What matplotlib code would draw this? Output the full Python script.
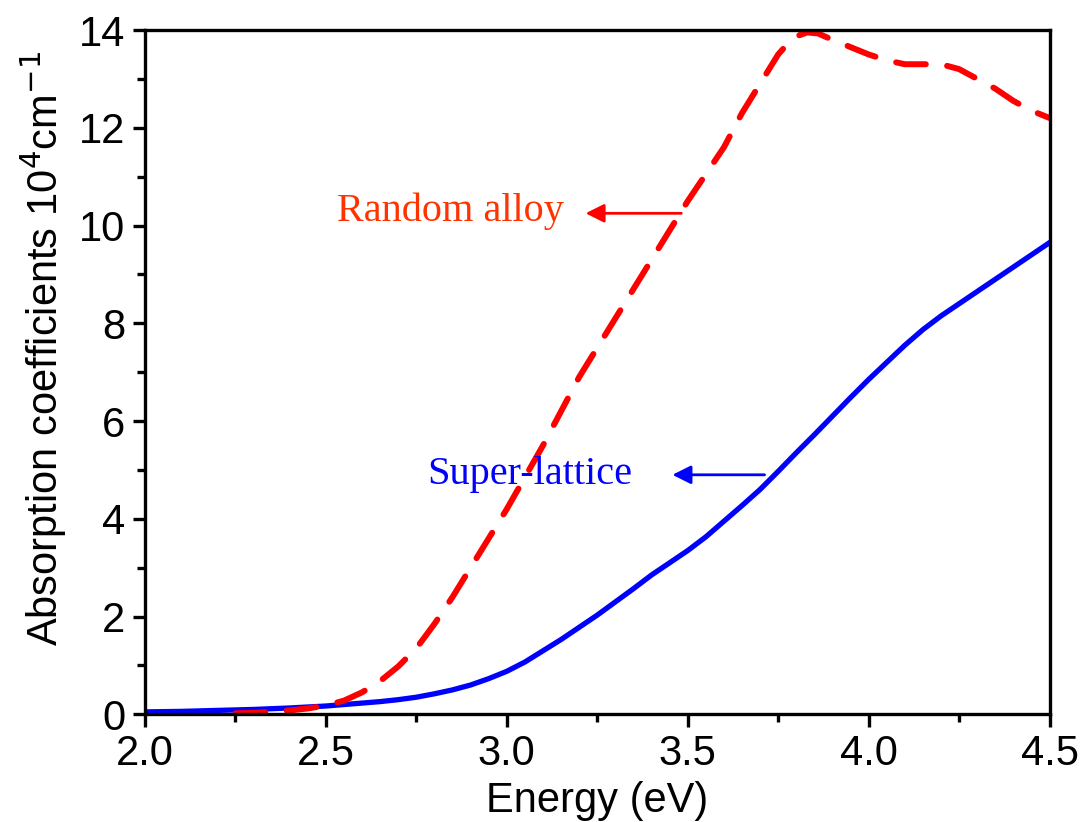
import numpy as np
import matplotlib
matplotlib.use("Agg")
import matplotlib.pyplot as plt

# energy (eV) and absorption (10^4 cm^-1)
energy_sl = [2.0, 2.1, 2.2, 2.3, 2.4, 2.5, 2.55, 2.6, 2.65, 2.7, 2.75, 2.8,
             2.85, 2.9, 2.95, 3.0, 3.05, 3.1, 3.15, 3.2, 3.25, 3.3, 3.35, 3.4,
             3.45, 3.5, 3.55, 3.6, 3.65, 3.7, 3.75, 3.8, 3.85, 3.9, 3.95, 4.0,
             4.05, 4.1, 4.15, 4.2, 4.25, 4.3, 4.35, 4.4, 4.45, 4.5]
super_lattice = [0.05, 0.06, 0.08, 0.1, 0.13, 0.17, 0.2, 0.23, 0.26, 0.3,
                 0.35, 0.42, 0.5, 0.6, 0.73, 0.88, 1.07, 1.3, 1.53, 1.78,
                 2.03, 2.3, 2.57, 2.85, 3.1, 3.35, 3.63, 3.95, 4.27, 4.6,
                 4.97, 5.35, 5.72, 6.1, 6.48, 6.85, 7.2, 7.55, 7.87, 8.15,
                 8.4, 8.65, 8.9, 9.15, 9.4, 9.65]

energy_ra = [2.25, 2.3, 2.35, 2.4, 2.45, 2.5, 2.55, 2.6, 2.65, 2.7, 2.75,
             2.8, 2.85, 2.9, 2.95, 3.0, 3.05, 3.1, 3.15, 3.2, 3.25, 3.3, 3.35,
             3.4, 3.45, 3.5, 3.55, 3.6, 3.65, 3.7, 3.75, 3.78, 3.8, 3.83,
             3.86, 3.9, 3.95, 4.0, 4.05, 4.1, 4.15, 4.2, 4.25, 4.3, 4.35, 4.4,
             4.45, 4.5]
random_alloy = [0.02, 0.03, 0.05, 0.08, 0.12, 0.18, 0.28, 0.45, 0.68, 0.98,
                1.35, 1.85, 2.4, 3.0, 3.6, 4.2, 4.85, 5.5, 6.2, 6.9, 7.5, 8.1,
                8.7, 9.3, 9.9, 10.5, 11.05, 11.6, 12.3, 12.9, 13.5, 13.75,
                13.87, 13.95, 13.93, 13.8, 13.65, 13.5, 13.38, 13.3, 13.3,
                13.3, 13.2, 13.0, 12.8, 12.55, 12.35, 12.2]

plt.rcParams['font.family'] = ['Liberation Sans', 'DejaVu Sans']

fig = plt.figure(figsize=(10.82, 8.22), dpi=100)
ax = fig.add_axes([0.134, 0.131, 0.836, 0.8325])

ax.plot(energy_sl, super_lattice, color='#0000ff', lw=3.8,
        solid_joinstyle='round')
ax.plot(energy_ra, random_alloy, color='#ff0000', lw=4.3, ls=(0, (5, 3.6)),
        dash_capstyle='round', dash_joinstyle='round')

ax.set_xlim(2.0, 4.5)
ax.set_ylim(0, 14)
ax.set_xticks(np.arange(2.0, 4.51, 0.5))
ax.set_xticks(np.arange(2.25, 4.5, 0.5), minor=True)
ax.set_yticks(np.arange(0, 15, 2))
ax.set_yticks(np.arange(1, 14, 2), minor=True)
ax.xaxis.set_major_formatter(matplotlib.ticker.FormatStrFormatter('%.1f'))

for s in ax.spines.values():
    s.set_linewidth(2.4)
ax.tick_params(which='major', direction='out', length=9, width=2.4,
               labelsize=30, pad=5)
ax.tick_params(which='minor', direction='out', length=5.5, width=2.4)

ax.set_xlabel('Energy (eV)', fontsize=30, labelpad=5)
ax.set_ylabel('Absorption coefficients 10$^4$cm$^{-1}$', fontsize=30)
ax.yaxis.set_label_coords(-0.084, 0.535)

serif = ['Liberation Serif', 'DejaVu Serif']
ax.annotate('', xy=(3.21, 10.25), xytext=(3.49, 10.25),
            arrowprops=dict(arrowstyle='-|>', color='#ff0000', lw=2,
                            mutation_scale=28))
ax.text(2.53, 10.3, 'Random alloy', color='#ff3300', fontsize=29,
        family=serif, va='center')
ax.annotate('', xy=(3.45, 4.9), xytext=(3.72, 4.9),
            arrowprops=dict(arrowstyle='-|>', color='#0000ff', lw=2,
                            mutation_scale=28))
ax.text(2.78, 4.9, 'Super-lattice', color='#0000ff', fontsize=29,
        family=serif, va='center')

fig.savefig('out.png', dpi=100)
